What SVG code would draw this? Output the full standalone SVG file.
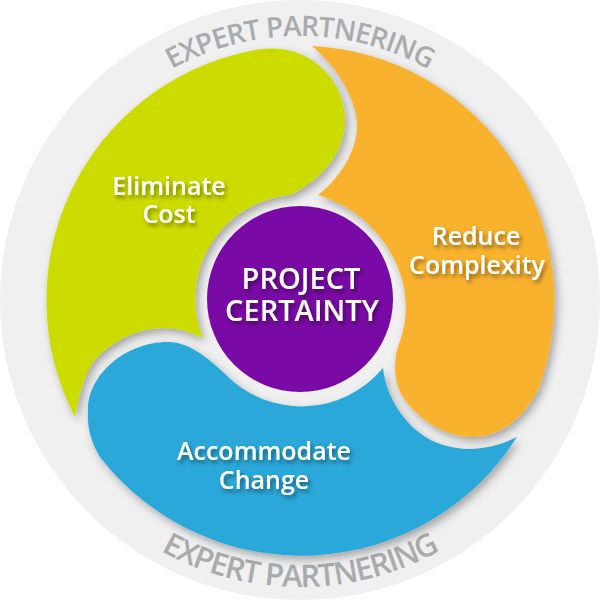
<svg xmlns="http://www.w3.org/2000/svg" width="600" height="600" viewBox="0 0 600 600">
<style>
.lab{font-family:"Open Sans","Noto Sans",sans-serif;fill:#fff;text-anchor:middle;font-weight:600}
.big{font-size:29px}
.mid{font-size:25px}
.ring{font-family:"Open Sans","Noto Sans",sans-serif;fill:#a9abad;font-weight:600;text-anchor:middle}
.rt{font-size:28px;letter-spacing:-.9px}
.rb{font-size:31px;letter-spacing:-1.3px}
</style>
<defs>
<filter id="sh" x="-10%" y="-10%" width="125%" height="125%"><feDropShadow dx="3" dy="4" stdDeviation="4" flood-color="#000" flood-opacity=".32"/></filter>
<filter id="ts" x="-15%" y="-25%" width="135%" height="160%"><feDropShadow dx="2" dy="3" stdDeviation="2" flood-color="#000" flood-opacity=".45"/></filter>
<path id="topArc" d="M36 300A264 264 0 0 1 564 300"/>
<path id="botArc" d="M13 300A287 287 0 0 0 587 300"/>
</defs>
<g id="ring">
<circle cx="300" cy="300" r="300" fill="#f0f0f0"/>
<text class="ring rt"><textPath href="#topArc" startOffset="50%">EXPERT PARTNERING</textPath></text>
<text class="ring rb"><textPath href="#botArc" startOffset="50%">EXPERT PARTNERING</textPath></text>
</g>
<g id="eliminate-cost">
<path filter="url(#sh)" fill="#cddc00" d="M75 417A254 254 0 0 1 250 51C262 48 280 47 295 52C325 62 345 90 345 120C345 150 325 178 290 195A104 104 0 0 0 203 338C190 332 178 328 163 328C130 328 100 350 90 367C83 380 78 398 75 417Z"/>
<text class="lab mid" filter="url(#ts)" x="169" y="195">Eliminate</text>
<text class="lab mid" filter="url(#ts)" x="169" y="223">Cost</text>
</g>
<g id="reduce-complexity">
<path filter="url(#sh)" fill="#f9b22d" d="M312 46A255 255 0 0 1 540 385C530 410 505 437 473 437C445 437 420 420 405 400C395 385 393 370 397 350C402 335 408 320 405 295C402 262 375 212 318 195C340 178 358 150 357 123C355 95 335 65 312 46Z"/>
<text class="lab mid" filter="url(#ts)" x="476" y="245">Reduce</text>
<text class="lab mid" filter="url(#ts)" x="477" y="274">Complexity</text>
</g>
<g id="accommodate-change">
<path filter="url(#sh)" fill="#29a8d9" d="M517 437A255 255 0 0 1 100 457C90 440 87 425 88 410C88 375 125 342 168 342C190 342 210 360 225 374A106 106 0 0 0 383 368C386 400 410 435 443 445C470 453 495 448 517 437Z"/>
<text class="lab mid" filter="url(#ts)" x="264" y="460">Accommodate</text>
<text class="lab mid" filter="url(#ts)" x="264" y="489">Change</text>
</g>
<g id="project-certainty">
<circle cx="300" cy="299" r="93" fill="#7a0aa5"/>
<text class="lab big" filter="url(#ts)" x="301" y="289">PROJECT</text>
<text class="lab big" filter="url(#ts)" x="302" y="321">CERTAINTY</text>
</g>
</svg>
